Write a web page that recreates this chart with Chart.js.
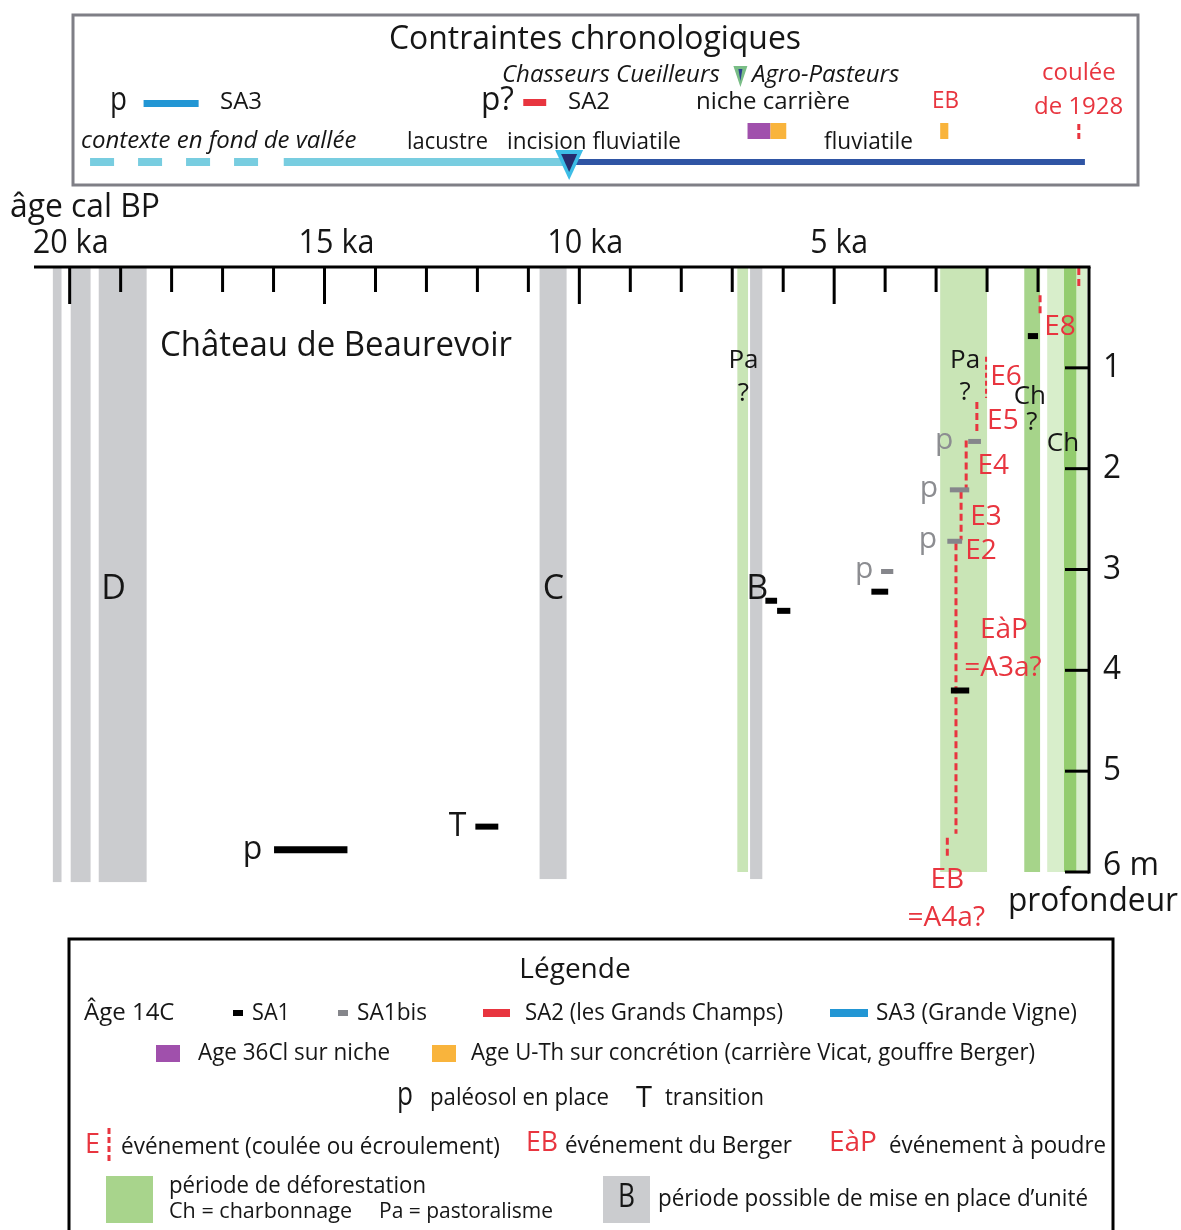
<!DOCTYPE html>
<html lang="fr">
  <head>
    <meta charset="UTF-8" />
    <title>Château de Beaurevoir</title>
    <script src="https://cdn.jsdelivr.net/npm/chart.js@4.4.0/dist/chart.umd.min.js"></script>
    <style>
      html, body { margin: 0; padding: 0; background: #fff; }
    </style>
  </head>
  <body>
    <canvas id="myChart" width="1181" height="1230"></canvas>
    <script>
      // ---- data (ages in ka cal BP, depths in m) ----
      const ageLabels = [20, 15, 10, 5];
      const depthLabels = [1, 2, 3, 4, 5, 6];

      // possible emplacement periods of units (gray)
      const unitOld = [20.33, 19.98, 19.43, 10.78, 6.65];
      const unitYoung = [20.16, 19.59, 18.49, 10.25, 6.41];
      const unitBottom = [6.1, 6.1, 6.1, 6.07, 6.07];
      const unitNames = ["", "", "D", "C", "B"];
      const unitNameAge = [0, 0, 19.14, 10.51, 6.51];

      // deforestation periods (green)
      const deforOld = [6.9, 2.92, 1.27, 0.82, 0.49];
      const deforYoung = [6.69, 2.0, 0.96, 0.04, 0.25];

      // 14C ages SA1 (black) and SA1bis (gray)
      const sa1Old = [15.99, 12.04, 6.35, 6.12, 4.27, 2.71, 1.2];
      const sa1Young = [14.55, 11.59, 6.12, 5.86, 3.94, 2.35, 1.0];
      const sa1Depth = [5.78, 5.55, 3.31, 3.41, 3.22, 4.2, 0.685];
      const sa1bisOld = [4.08, 2.37, 2.73, 2.78];
      const sa1bisYoung = [3.84, 2.12, 2.35, 2.49];
      const sa1bisDepth = [3.02, 1.73, 2.21, 2.72];

      // events (red dashed)
      const eventNames = ["1928", "E8", "E6", "E5", "E4", "E3", "E2", "EB"];
      const eventAge = [0.2, 0.96, 2.02, 2.2, 2.41, 2.51, 2.61, 2.78];
      const eventTop = [0.01, 0.28, 0.89, 1.34, 1.72, 2.23, 2.74, 5.66];
      const eventBottom = [0.2, 0.46, 1.3, 1.65, 2.21, 2.71, 5.62, 5.86];

      // annotations [text, age, depth]
      const blackNotes = [["Pa", 6.78, 0.93], ["?", 6.78, 1.26], ["Pa", 2.43, 0.93], ["?", 2.43, 1.25],
        ["Ch", 1.16, 1.29], ["?", 1.12, 1.54], ["Ch", 0.51, 1.75], ["p", 16.41, 5.78], ["T", 12.39, 5.55]];
      const grayNotes = [["p", 2.84, 1.72], ["p", 3.14, 2.2], ["p", 3.16, 2.7], ["p", 4.41, 3.0]];
      const redNotes = [["E8", 0.57, 0.6], ["E6", 1.63, 1.09], ["E5", 1.69, 1.53], ["E4", 1.88, 1.97],
        ["E3", 2.02, 2.48], ["E2", 2.12, 2.82], ["EàP", 1.67, 3.6], ["=A3a?", 1.69, 3.98],
        ["EB", 2.78, 6.08], ["=A4a?", 2.8, 6.46]];

      // chronological constraints (top box)
      const sa3Range = [18.55, 17.47];
      const sa2Range = [11.1, 10.65];
      const niche36Cl = [6.7, 6.25];
      const nicheUTh = [6.25, 5.94];
      const ebUTh = [2.92, 2.76];
      const coulee1928 = 0.2;
      const neolithicAge = 6.84;
      const valleyDashed = [19.6, 16.2];
      const valleyLake = [15.8, 10.2];
      const valleyRiver = [10.2, 0.08];

      // ---- styles ----
      const RED = "#e8353f";
      const INK = "#161616";
      const GRAY = "#cbcccf";
      const deforColors = ["#c9e5b6", "#c9e5b6", "#a6d48a", "#d8eecb", "#93cc6e"];
      const ageLabelShift = [1, 12, 6, 5];
      const FONT = '"Open Sans", sans-serif';

      function txt(ctx, s, x, y, o) {
        ctx.font = (o.italic ? "italic " : "") + (o.size || 24) + "px " + FONT;
        ctx.fillStyle = o.color || INK;
        ctx.textAlign = o.align || "left";
        ctx.textBaseline = "middle";
        if (o.w) ctx.fillText(s, x, y, o.w);
        else ctx.fillText(s, x, y);
      }

      const datasets = [];
      sa1Old.forEach((a, i) => {
        datasets.push({
          data: [{ x: a, y: sa1Depth[i] }, { x: sa1Young[i], y: sa1Depth[i] }],
          borderColor: "#000", borderWidth: i === 0 ? 7 : 6,
        });
      });
      sa1bisOld.forEach((a, i) => {
        datasets.push({
          data: [{ x: a, y: sa1bisDepth[i] }, { x: sa1bisYoung[i], y: sa1bisDepth[i] }],
          borderColor: "#85868b", borderWidth: 5,
        });
      });
      eventAge.forEach((a, i) => {
        datasets.push({
          data: [{ x: a, y: eventTop[i] }, { x: a, y: eventBottom[i] }],
          borderColor: RED, borderWidth: eventNames[i] === "E6" ? 2 : 3,
          borderDash: eventNames[i] === "E6" ? [5, 3] : [7, 4],
        });
      });
      datasets.forEach((d) => {
        d.showLine = true; d.pointRadius = 0; d.clip = false; d.borderCapStyle = "butt";
      });

      const bandsPlugin = {
        id: "bands",
        beforeDatasetsDraw(chart) {
          const { ctx, scales: { x, y } } = chart;
          ctx.save();
          unitOld.forEach((a, i) => {
            const x0 = x.getPixelForValue(a), x1 = x.getPixelForValue(unitYoung[i]);
            ctx.fillStyle = GRAY;
            ctx.fillRect(x0, y.getPixelForValue(0), x1 - x0, y.getPixelForValue(unitBottom[i]) - y.getPixelForValue(0));
          });
          deforOld.forEach((a, i) => {
            const x0 = x.getPixelForValue(a), x1 = x.getPixelForValue(deforYoung[i]);
            ctx.fillStyle = deforColors[i];
            ctx.fillRect(x0, y.getPixelForValue(0), x1 - x0, y.getPixelForValue(6) - y.getPixelForValue(0));
          });
          ctx.restore();
        },
        afterDatasetsDraw(chart) {
          const { ctx, scales: { x, y } } = chart;
          ctx.save();
          // annotations inside the plot
          unitNames.forEach((n, i) => {
            if (n) txt(ctx, n, x.getPixelForValue(unitNameAge[i]), y.getPixelForValue(3.2), { size: 34, align: "center" });
          });
          blackNotes.forEach((n) => txt(ctx, n[0], x.getPixelForValue(n[1]), y.getPixelForValue(n[2]), { size: n[0] === "p" || n[0] === "T" ? 32 : 26, align: "center" }));
          grayNotes.forEach((n) => txt(ctx, n[0], x.getPixelForValue(n[1]), y.getPixelForValue(n[2]), { size: 30, align: "center", color: "#8c8d91" }));
          redNotes.forEach((n) => txt(ctx, n[0], x.getPixelForValue(n[1]), y.getPixelForValue(n[2]), { size: 28, align: "center", color: RED }));
          txt(ctx, "Château de Beaurevoir", 160, 346, { size: 34, w: 352 });

          // top age axis
          const top = y.getPixelForValue(0);
          ctx.strokeStyle = "#000";
          ctx.lineWidth = 3;
          ctx.beginPath();
          ctx.moveTo(x.getPixelForValue(x.max), top);
          ctx.lineTo(x.getPixelForValue(0) + 1.5, top);
          ctx.stroke();
          for (let k = 1; k <= 20; k++) {
            const px = x.getPixelForValue(k);
            ctx.beginPath();
            ctx.moveTo(px, top);
            ctx.lineTo(px, top + (k % 5 === 0 ? 37 : 25));
            ctx.stroke();
          }
          ageLabels.forEach((k, i) => txt(ctx, k + " ka", x.getPixelForValue(k) + ageLabelShift[i], 244, { size: 32, align: "center", w: k < 10 ? 58 : 76 }));
          txt(ctx, "âge cal BP", 10, 208, { size: 32, w: 150 });

          // right depth axis
          const rx = x.getPixelForValue(0);
          ctx.beginPath();
          ctx.moveTo(rx, top);
          ctx.lineTo(rx, y.getPixelForValue(6) + 1.5);
          ctx.stroke();
          depthLabels.forEach((d) => {
            const py = y.getPixelForValue(d);
            ctx.beginPath();
            ctx.moveTo(rx - 24, py);
            ctx.lineTo(rx, py);
            ctx.stroke();
            txt(ctx, d === 6 ? "6 m" : String(d), rx + 14, d === 6 ? py - 6 : py, { size: 32, w: d === 6 ? 56 : 18 });
          });
          txt(ctx, "profondeur", 1008, 902, { size: 32, w: 170 });

          // ---- chronological constraints box ----
          ctx.strokeStyle = "#7f7f86";
          ctx.lineWidth = 3;
          ctx.strokeRect(73, 15, 1065, 170);
          txt(ctx, "Contraintes chronologiques", 595, 40, { size: 32, align: "center", w: 412 });
          txt(ctx, "Chasseurs Cueilleurs", 502, 75, { size: 24, italic: true, w: 223 });
          txt(ctx, "Agro-Pasteurs", 752, 75, { size: 24, italic: true, w: 154 });
          const nx = x.getPixelForValue(neolithicAge);
          ctx.fillStyle = "#79bd86";
          ctx.beginPath(); ctx.moveTo(nx - 7, 66); ctx.lineTo(nx + 7, 66); ctx.lineTo(nx, 87); ctx.fill();
          ctx.fillStyle = "#2b3f8f";
          ctx.beginPath(); ctx.moveTo(nx - 2, 69); ctx.lineTo(nx + 2, 69); ctx.lineTo(nx, 81); ctx.fill();

          txt(ctx, "p", 110, 101, { size: 32, w: 17 });
          ctx.fillStyle = "#2296d4";
          ctx.fillRect(x.getPixelForValue(sa3Range[0]), 100, x.getPixelForValue(sa3Range[1]) - x.getPixelForValue(sa3Range[0]), 7);
          txt(ctx, "SA3", 220, 102, { size: 24, w: 44 });
          txt(ctx, "p?", 481, 101, { size: 32, w: 33 });
          ctx.fillStyle = RED;
          ctx.fillRect(x.getPixelForValue(sa2Range[0]), 99, x.getPixelForValue(sa2Range[1]) - x.getPixelForValue(sa2Range[0]), 7);
          txt(ctx, "SA2", 568, 102, { size: 24, w: 44 });
          txt(ctx, "niche carrière", 696, 102, { size: 24, w: 155 });
          txt(ctx, "EB", 932, 101, { size: 24, w: 27, color: RED });
          txt(ctx, "coulée", 1042, 73, { size: 24, w: 76, color: RED });
          txt(ctx, "de 1928", 1034, 107, { size: 24, w: 91, color: RED });

          ctx.fillStyle = "#a050ac";
          ctx.fillRect(x.getPixelForValue(niche36Cl[0]), 123, x.getPixelForValue(niche36Cl[1]) - x.getPixelForValue(niche36Cl[0]), 16);
          ctx.fillStyle = "#f9b43c";
          ctx.fillRect(x.getPixelForValue(nicheUTh[0]), 123, x.getPixelForValue(nicheUTh[1]) - x.getPixelForValue(nicheUTh[0]), 16);
          ctx.fillRect(x.getPixelForValue(ebUTh[0]), 123, x.getPixelForValue(ebUTh[1]) - x.getPixelForValue(ebUTh[0]), 16);
          ctx.strokeStyle = RED;
          ctx.setLineDash([6, 3]);
          ctx.beginPath();
          ctx.moveTo(x.getPixelForValue(coulee1928), 124);
          ctx.lineTo(x.getPixelForValue(coulee1928), 141);
          ctx.stroke();

          txt(ctx, "contexte en fond de vallée", 81, 141, { size: 24, italic: true, w: 286 });
          txt(ctx, "lacustre", 407, 142, { size: 24, w: 81 });
          txt(ctx, "incision fluviatile", 507, 142, { size: 24, w: 174 });
          txt(ctx, "fluviatile", 824, 142, { size: 24, w: 89 });

          ctx.lineWidth = 8;
          ctx.strokeStyle = "#78cde0";
          ctx.setLineDash([24, 24]);
          ctx.beginPath();
          ctx.moveTo(x.getPixelForValue(valleyDashed[0]), 162);
          ctx.lineTo(x.getPixelForValue(valleyDashed[1]), 162);
          ctx.stroke();
          ctx.setLineDash([]);
          ctx.beginPath();
          ctx.moveTo(x.getPixelForValue(valleyLake[0]), 162);
          ctx.lineTo(x.getPixelForValue(valleyLake[1]), 162);
          ctx.stroke();
          ctx.lineWidth = 6;
          ctx.strokeStyle = "#2f55a4";
          ctx.beginPath();
          ctx.moveTo(x.getPixelForValue(valleyRiver[0]), 162);
          ctx.lineTo(x.getPixelForValue(valleyRiver[1]), 162);
          ctx.stroke();
          const ix = x.getPixelForValue(valleyLake[1]);
          ctx.fillStyle = "#3dbde6";
          ctx.beginPath(); ctx.moveTo(ix - 14, 150); ctx.lineTo(ix + 14, 150); ctx.lineTo(ix, 180); ctx.fill();
          ctx.fillStyle = "#262d6e";
          ctx.beginPath(); ctx.moveTo(ix - 8, 154); ctx.lineTo(ix + 8, 154); ctx.lineTo(ix, 172); ctx.fill();

          // ---- legend box ----
          ctx.strokeStyle = "#000";
          ctx.lineWidth = 3;
          ctx.strokeRect(69, 939, 1044, 300);
          txt(ctx, "Légende", 575, 970, { size: 28, align: "center", w: 116 });
          txt(ctx, "Âge 14C", 84, 1013, { size: 24, w: 95 });
          ctx.fillStyle = "#000"; ctx.fillRect(233, 1010, 10, 6);
          txt(ctx, "SA1", 252, 1013, { size: 24, w: 38 });
          ctx.fillStyle = "#85868b"; ctx.fillRect(338, 1010, 10, 6);
          txt(ctx, "SA1bis", 357, 1013, { size: 24, w: 70 });
          ctx.fillStyle = RED; ctx.fillRect(483, 1009, 27, 8);
          txt(ctx, "SA2 (les Grands Champs)", 525, 1013, { size: 24, w: 258 });
          ctx.fillStyle = "#2296d4"; ctx.fillRect(830, 1009, 38, 8);
          txt(ctx, "SA3 (Grande Vigne)", 876, 1013, { size: 24, w: 201 });
          ctx.fillStyle = "#a050ac"; ctx.fillRect(156, 1045, 24, 17);
          txt(ctx, "Age 36Cl sur niche", 198, 1053, { size: 24, w: 192 });
          ctx.fillStyle = "#f9b43c"; ctx.fillRect(432, 1045, 24, 17);
          txt(ctx, "Age U-Th sur concrétion (carrière Vicat, gouffre Berger)", 471, 1053, { size: 24, w: 564 });
          txt(ctx, "p", 397, 1096, { size: 32, w: 16 });
          txt(ctx, "paléosol en place", 430, 1098, { size: 23, w: 179 });
          txt(ctx, "T", 636, 1098, { size: 30, w: 16 });
          txt(ctx, "transition", 665, 1098, { size: 23, w: 99 });
          txt(ctx, "E", 85, 1145, { size: 28, w: 15, color: RED });
          ctx.strokeStyle = RED; ctx.lineWidth = 3; ctx.setLineDash([6, 3]);
          ctx.beginPath(); ctx.moveTo(109, 1128); ctx.lineTo(109, 1163); ctx.stroke();
          ctx.setLineDash([]);
          txt(ctx, "événement (coulée ou écroulement)", 121, 1147, { size: 24, w: 379 });
          txt(ctx, "EB", 526, 1143, { size: 28, w: 32, color: RED });
          txt(ctx, "événement du Berger", 565, 1146, { size: 24, w: 227 });
          txt(ctx, "EàP", 829, 1143, { size: 28, w: 48, color: RED });
          txt(ctx, "événement à poudre", 889, 1146, { size: 24, w: 217 });
          ctx.fillStyle = "#a8d48c"; ctx.fillRect(106, 1176, 47, 47);
          txt(ctx, "période de déforestation", 169, 1186, { size: 24, w: 257 });
          txt(ctx, "Ch = charbonnage", 169, 1212, { size: 22, w: 183 });
          txt(ctx, "Pa = pastoralisme", 379, 1212, { size: 22, w: 174 });
          ctx.fillStyle = GRAY; ctx.fillRect(603, 1176, 47, 47);
          txt(ctx, "B", 618, 1198, { size: 32, w: 17 });
          txt(ctx, "période possible de mise en place d’unité", 658, 1199, { size: 24, w: 430 });
          ctx.restore();
        },
      };

      const ctx = document.getElementById("myChart").getContext("2d");
      const myChart = new Chart(ctx, {
        type: "scatter",
        data: { datasets: datasets },
        options: {
          responsive: false,
          animation: false,
          layout: { padding: { left: 34, right: 92, top: 267, bottom: 358 } },
          scales: {
            x: { type: "linear", reverse: true, min: 0, max: 20.7, display: false },
            y: { type: "linear", reverse: true, min: 0, max: 6, display: false },
          },
          plugins: { legend: { display: false }, tooltip: { enabled: false } },
        },
        plugins: [bandsPlugin],
      });
    </script>
  </body>
</html>
